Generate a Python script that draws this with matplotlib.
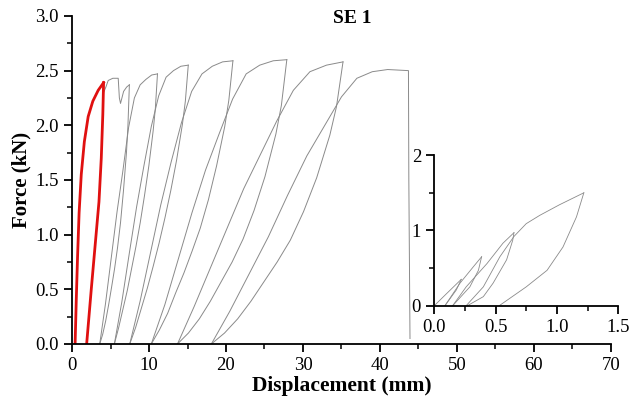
import matplotlib.pyplot as plt
import numpy as np

plt.rcParams['font.family'] = ['Liberation Serif', 'DejaVu Serif']

# first loop (red): loading and unloading branch
first_load_x = [0.4, 0.55, 0.72, 0.92, 1.2, 1.6, 2.1, 2.7, 3.4, 4.1]
first_load_y = [0.0, 0.4, 0.8, 1.2, 1.55, 1.85, 2.08, 2.22, 2.32, 2.39]
first_unload_x = [4.1, 4.0, 3.8, 3.5, 3.0, 2.5, 1.9]
first_unload_y = [2.39, 2.1, 1.7, 1.3, 0.9, 0.5, 0.0]

# later cycles (grey): one reloading and one unloading branch per cycle
reload_x = [
    [1.9, 2.5, 3.0, 3.5, 3.8, 4.0, 4.1, 4.4, 4.7, 5.3, 6.0, 6.15, 6.3, 6.7, 7.1, 7.45],
    [3.6, 4.35, 5.1, 5.85, 6.6, 7.35, 8.1, 8.85, 9.6, 10.35, 11.1],
    [5.5, 6.46, 7.42, 8.38, 9.34, 10.3, 11.26, 12.22, 13.18, 14.14, 15.1],
    [7.5, 8.84, 10.18, 11.52, 12.86, 14.2, 15.54, 16.88, 18.22, 19.56, 20.9],
    [10.3, 12.06, 13.82, 15.58, 17.34, 19.1, 20.86, 22.62, 24.38, 26.14, 27.9],
    [13.7, 15.85, 18.0, 20.15, 22.3, 24.45, 26.6, 28.75, 30.9, 33.05, 35.2],
    [18.1, 20.5, 23.0, 25.5, 28.0, 30.5, 33.0, 35.0, 37.0, 39.0, 41.0, 43.7, 43.75, 43.9],
]
reload_y = [
    [0.0, 0.5, 0.9, 1.3, 1.7, 2.1, 2.3, 2.35, 2.41, 2.43, 2.43, 2.25, 2.2, 2.31, 2.35, 2.37],
    [0.0, 0.37, 0.79, 1.21, 1.58, 1.98, 2.25, 2.37, 2.42, 2.46, 2.47],
    [0.0, 0.38, 0.82, 1.25, 1.63, 1.99, 2.27, 2.44, 2.5, 2.54, 2.55],
    [0.0, 0.39, 0.83, 1.27, 1.66, 2.02, 2.31, 2.47, 2.54, 2.58, 2.59],
    [0.0, 0.36, 0.78, 1.2, 1.59, 1.92, 2.24, 2.47, 2.55, 2.59, 2.6],
    [0.0, 0.34, 0.7, 1.06, 1.42, 1.73, 2.04, 2.32, 2.49, 2.55, 2.58],
    [0.0, 0.3, 0.64, 0.98, 1.36, 1.72, 2.02, 2.26, 2.43, 2.49, 2.51, 2.5, 1.5, 0.05],
]
unload_x = [
    [7.45, 7.26, 7.07, 6.68, 6.3, 5.91, 5.53, 5.14, 4.76, 4.37, 3.99, 3.6],
    [11.1, 10.82, 10.54, 9.98, 9.42, 8.86, 8.3, 7.74, 7.18, 6.62, 6.06, 5.5],
    [15.1, 14.72, 14.34, 13.58, 12.82, 12.06, 11.3, 10.54, 9.78, 9.02, 8.26, 7.5],
    [20.9, 20.37, 19.84, 18.78, 17.72, 16.66, 15.6, 14.54, 13.48, 12.42, 11.36, 10.3],
    [27.9, 27.19, 26.48, 25.06, 23.64, 22.22, 20.8, 19.38, 17.96, 16.54, 15.12, 13.7],
    [35.2, 34.35, 33.49, 31.78, 30.07, 28.36, 26.65, 24.94, 23.23, 21.52, 19.81, 18.1],
]
unload_y = [
    [2.37, 1.99, 1.75, 1.4, 1.11, 0.88, 0.69, 0.52, 0.36, 0.21, 0.09, 0.0],
    [2.47, 2.15, 1.95, 1.63, 1.36, 1.11, 0.89, 0.69, 0.49, 0.32, 0.15, 0.0],
    [2.55, 2.22, 2.01, 1.68, 1.4, 1.15, 0.92, 0.71, 0.51, 0.33, 0.15, 0.0],
    [2.59, 2.23, 1.99, 1.63, 1.32, 1.06, 0.85, 0.65, 0.47, 0.28, 0.13, 0.0],
    [2.6, 2.18, 1.92, 1.53, 1.22, 0.96, 0.75, 0.57, 0.39, 0.23, 0.1, 0.0],
    [2.58, 2.17, 1.91, 1.52, 1.21, 0.95, 0.75, 0.57, 0.39, 0.23, 0.1, 0.0],
]

# inset: small loops near the origin
inset_load_x = [
    [0.0, 0.1, 0.22],
    [0.087, 0.21, 0.32, 0.386],
    [0.15, 0.26, 0.43, 0.56, 0.65],
    [0.26, 0.4, 0.535, 0.65, 0.75, 0.86, 1.02, 1.22],
]
inset_load_y = [
    [0.0, 0.16, 0.35],
    [0.0, 0.3, 0.52, 0.65],
    [0.0, 0.25, 0.56, 0.83, 0.97],
    [0.0, 0.25, 0.65, 0.92, 1.09, 1.2, 1.34, 1.5],
]
inset_unload_x = [
    [0.22, 0.18, 0.087],
    [0.386, 0.36, 0.29, 0.15],
    [0.65, 0.64, 0.59, 0.48, 0.4, 0.27],
    [1.22, 1.16, 1.05, 0.92, 0.75, 0.53],
]
inset_unload_y = [
    [0.35, 0.21, 0.0],
    [0.65, 0.47, 0.25, 0.0],
    [0.97, 0.87, 0.61, 0.3, 0.12, 0.0],
    [1.5, 1.18, 0.78, 0.47, 0.25, 0.0],
]

GREY = '#8a8a8a'


def style_axes(ax, size):
    for side in ['top', 'right']:
        ax.spines[side].set_visible(False)
    for side in ['left', 'bottom']:
        ax.spines[side].set_linewidth(1.3)
    ax.tick_params(which='major', direction='out', length=6, width=1.3, labelsize=size)
    ax.tick_params(which='minor', direction='out', length=3.5, width=1.1)


fig = plt.figure(figsize=(6.34, 4.09), dpi=100)
ax = fig.add_axes([0.1136, 0.159, 0.850, 0.802])

for xs, ys in zip(reload_x, reload_y):
    ax.plot(xs, ys, color=GREY, lw=0.7)
for xs, ys in zip(unload_x, unload_y):
    ax.plot(xs, ys, color=GREY, lw=0.7)
ax.plot(first_load_x, first_load_y, color='#e01010', lw=2.0)
ax.plot(first_unload_x, first_unload_y, color='#e01010', lw=2.0)

ax.set_xlim(0, 70)
ax.set_ylim(0, 3.0)
ax.set_xticks(np.arange(0, 71, 10))
ax.set_xticks(np.arange(0, 71, 5), minor=True)
ax.set_yticks(np.arange(0, 3.01, 0.5))
ax.set_yticks(np.arange(0, 3.01, 0.25), minor=True)
ax.set_yticklabels(['%.1f' % v for v in np.arange(0, 3.01, 0.5)])
style_axes(ax, 13.5)
ax.set_xlabel('Displacement (mm)', fontsize=15.5, fontweight='bold', labelpad=1)
ax.set_ylabel('Force (kN)', fontsize=15, fontweight='bold', labelpad=3)
fig.text(0.555, 0.955, 'SE 1', fontsize=14, fontweight='bold', ha='center', va='center')

ins = fig.add_axes([0.685, 0.2526, 0.290, 0.368])
for xs, ys in zip(inset_load_x, inset_load_y):
    ins.plot(xs, ys, color=GREY, lw=0.6)
for xs, ys in zip(inset_unload_x, inset_unload_y):
    ins.plot(xs, ys, color=GREY, lw=0.6)
ins.set_xlim(0, 1.5)
ins.set_ylim(0, 2)
ins.set_xticks([0, 0.5, 1.0, 1.5])
ins.set_xticks([0.25, 0.75, 1.25], minor=True)
ins.set_xticklabels(['0.0', '0.5', '1.0', '1.5'])
ins.set_yticks([0, 1, 2])
ins.set_yticks([0.5, 1.5], minor=True)
ins.patch.set_alpha(0)
style_axes(ins, 13.5)

fig.savefig('out.png', dpi=100)
